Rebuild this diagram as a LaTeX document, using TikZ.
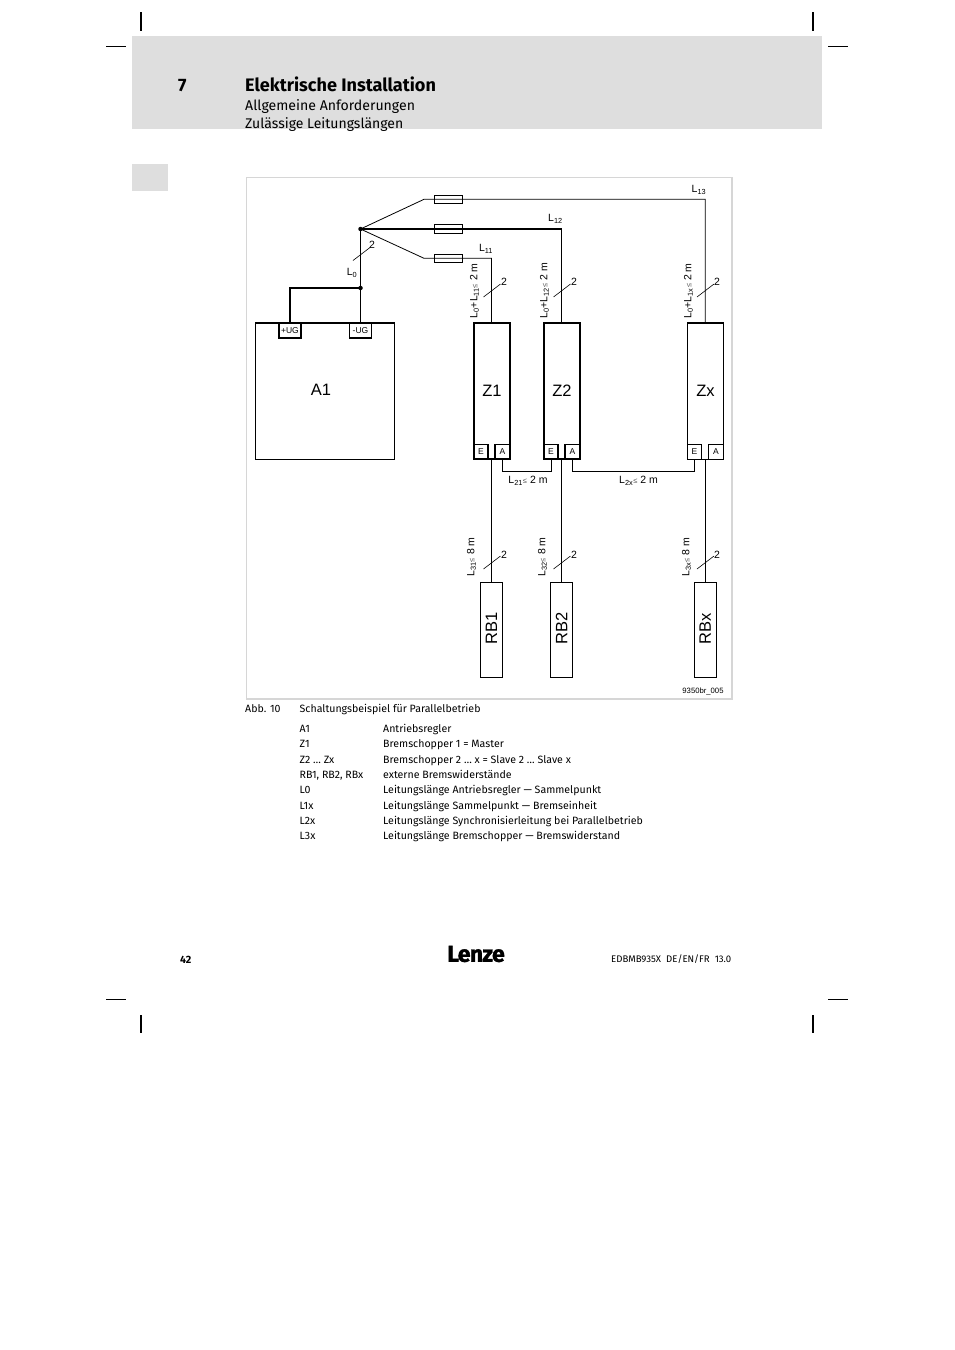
\documentclass[tikz,border=0pt]{standalone}
\usepackage{fontspec}
\setmainfont{Fira Sans}
\newfontfamily\arialf{Liberation Sans}
\newfontfamily\logof[FakeBold=1.5,LetterSpace=-3]{Fira Sans Bold}
\newcommand{\lee}{{\fontsize{7.5}{8}\selectfont\color{black!65}≤}}
\begin{document}
\begin{tikzpicture}[x=1pt,y=-1pt,
  wire/.style={line width=0.8pt},
  thick wire/.style={line width=1.6pt},
  box/.style={draw,line width=1.2pt},
  cropv/.style={line width=1.4pt},
  croph/.style={line width=0.7pt},
  txt/.style={inner sep=0pt,anchor=base west,font=\fontsize{10.6}{12}\selectfont},
  lab/.style={inner sep=0pt,font=\arialf\fontsize{10.5}{11}\selectfont},
  term/.style={box,inner sep=0pt,font=\arialf\fontsize{8.5}{9}\selectfont},
  big/.style={inner sep=0pt,font=\arialf\fontsize{16.5}{18}\selectfont},
  dotn/.style={circle,fill=black,inner sep=0pt,minimum size=4.5pt}]
\useasboundingbox (0,0) rectangle (954,1350);
\fill[white] (0,0) rectangle (954,1350);
\fill[black!13] (132,36) rectangle (822,129);
\fill[black!13] (132,164) rectangle (168,191);
\foreach \x in {141,813}{\draw[cropv] (\x,12)--(\x,31); \draw[cropv] (\x,1015)--(\x,1033);}
\foreach \y in {46,999}{\draw[croph] (106,\y)--(126,\y); \draw[croph] (828,\y)--(848,\y);}
\node[txt,font=\fontsize{18}{20}\selectfont\bfseries] (n7) at (178,91) {7};
\node[txt,font=\fontsize{18.1}{20}\selectfont\bfseries] (title) at (245,91) {Elektrische Installation};
\node[txt,font=\fontsize{14.1}{16}\selectfont] (s1) at (245,110) {Allgemeine Anforderungen};
\node[txt,font=\fontsize{14}{16}\selectfont] (s2) at (245,128) {Zulässige Leitungslängen};
\draw[black!16,line width=1.8pt] (246.5,177.5) rectangle (732,699);
% boxes
\node[draw,line width=0.9pt,minimum width=139pt,minimum height=136pt,inner sep=0pt] (A1) at (325,391) {};
\draw[line width=1.5pt] (A1.north west) -- (A1.north east);
\draw[line width=1.5pt] (A1.south west) -- (A1.south east);
\node[big] (A1t) at (321,389.5) {A1};
\node[term,minimum width=22pt,minimum height=15pt] (ug1) at (290,330.5) {+UG};
\node[term,minimum width=22pt,minimum height=15pt] (ug2) at (360.5,330.5) {-UG};
\foreach \n/\x/\t/\w in {Z1/492/Z1/1.3,Z2/562/Z2/1.3,Zx/705.5/Zx/0.9}{
 \node[draw,line width=\w pt,minimum width=36pt,minimum height=136pt,inner sep=0pt] (\n) at (\x,391) {};
 \draw[line width=1.5pt] (\n.north west) -- (\n.north east);
 \draw[line width=1.5pt] (\n.south west) -- (\n.south east);
 \node[big] at (\x,390.5) {\t};
 \node[term,minimum width=14pt,minimum height=14.5pt] (\n E) at (\x-11,452) {E};
 \node[term,minimum width=15pt,minimum height=14.5pt] (\n A) at (\x+10.5,452) {A};
}
\foreach \n/\x/\t in {R1/491.5/RB1,R2/561.5/RB2,R3/705.3/RBx}{
 \node[draw,line width=1pt,minimum width=22pt,minimum height=95.5pt,inner sep=0pt] (\n) at (\x,630) {};
 \node[big,rotate=90] at (\x,628.5) {\t};
}
% wiring
\coordinate (star) at (360.5,229);
\coordinate (j) at (360.5,288);
\coordinate (bu) at (424,199.3);
\coordinate (bl) at (424,258.3);
\node[dotn] (d1) at (star) {};
\node[dotn] (d2) at (j) {};
\draw[wire] (ug2.north) -- (j) -- (star);
\draw[thick wire] (ug1.north) |- (j);
\foreach \y/\e in {199.3/1,229/2,258.3/3}{
 \node[draw,line width=1pt,minimum width=28pt,minimum height=8.5pt,inner sep=0pt] (f\e) at (448,\y) {};
}
\draw[wire] (star) -- (bu) -- (f1.east) -- (705.3,199.3) -- (705.3,323);
\draw[thick wire] (star) -- (561.5,229);
\draw[wire] (561.5,229) -- (561.5,323);
\draw[wire] (star) -- (bl) -- (f3.east) -- (491.5,258.3) -- (491.5,323);
\draw[wire] (491.5,459) -- (R1.north);
\draw[wire] (561.5,459) -- (R2.north);
\draw[wire] (705.3,459) -- (R3.north);
\draw[wire] (Z1A.south) -- ++(0,12) -| (Z2E.south);
\draw[wire] (Z2A.south) -- ++(0,12) -| (ZxE.south);
% ticks
\foreach \x/\y/\lx/\ly in {361.5/254/372/245,492/290.5/504/282,562/290.5/574/282,705.5/290.5/717/282,492/562.5/504/555,562/562.5/574/555,705.5/562.5/717/555}{
 \draw[line width=0.6pt] (\x-8.5,\y+6.5) -- (\x+8.5,\y-6.5);
 \node[lab] at (\lx,\ly) {2};
}
\node[lab] (L0) at (352,273) {L\textsubscript{0}};
\node[lab] at (699,190) {L\textsubscript{13}};
\node[lab] at (555.5,219) {L\textsubscript{12}};
\node[lab] at (486,249) {L\textsubscript{11}};
\foreach \x/\s in {474.5/{L\textsubscript{0}+L\textsubscript{11}\lee\ 2 m},544.5/{L\textsubscript{0}+L\textsubscript{12}\lee\ 2 m},688.5/{L\textsubscript{0}+L\textsubscript{1x}\lee\ 2 m}}
 \node[lab,rotate=90] at (\x,291) {\s};
\foreach \x/\s in {471.5/{L\textsubscript{31}\lee\ 8 m},542.5/{L\textsubscript{32}\lee\ 8 m},686.5/{L\textsubscript{3x}\lee\ 8 m}}
 \node[lab,rotate=90] at (\x,557) {\s};
\node[lab] at (528,481) {L\textsubscript{21}\lee\ 2 m};
\node[lab] at (638.5,481) {L\textsubscript{2x}\lee\ 2 m};
\node[inner sep=0pt,font=\arialf\fontsize{7.7}{8}\selectfont] at (703,691) {9350br\_005};
% caption
\node[txt] at (245,712) {Abb. 10};
\node[txt] at (299.5,712) {Schaltungsbeispiel für Parallelbetrieb};
\foreach \y/\a/\b in {732/A1/Antriebsregler,747/Z1/Bremschopper 1 = Master,763/Z2 … Zx/Bremschopper 2 … x = Slave 2 … Slave x,778/{RB1, RB2, RBx}/externe Bremswiderstände,793/L0/Leitungslänge Antriebsregler — Sammelpunkt,809/L1x/Leitungslänge Sammelpunkt — Bremseinheit,824/L2x/Leitungslänge Synchronisierleitung bei Parallelbetrieb,839/L3x/Leitungslänge Bremschopper — Bremswiderstand}{
 \node[txt] at (299.5,\y) {\a};
 \node[txt] at (383,\y) {\b};
}
\node[txt,font=\fontsize{10.6}{12}\selectfont\bfseries] at (180,963) {42};
\node[inner sep=0pt,font=\logof\fontsize{23}{25}\selectfont] (logo) at (476,954) {Lenze};
\node[txt,font=\fontsize{9.6}{11}\selectfont] at (611,962) {EDBMB935X\ \ DE/EN/FR\ \ 13.0};
\end{tikzpicture}
\end{document}
